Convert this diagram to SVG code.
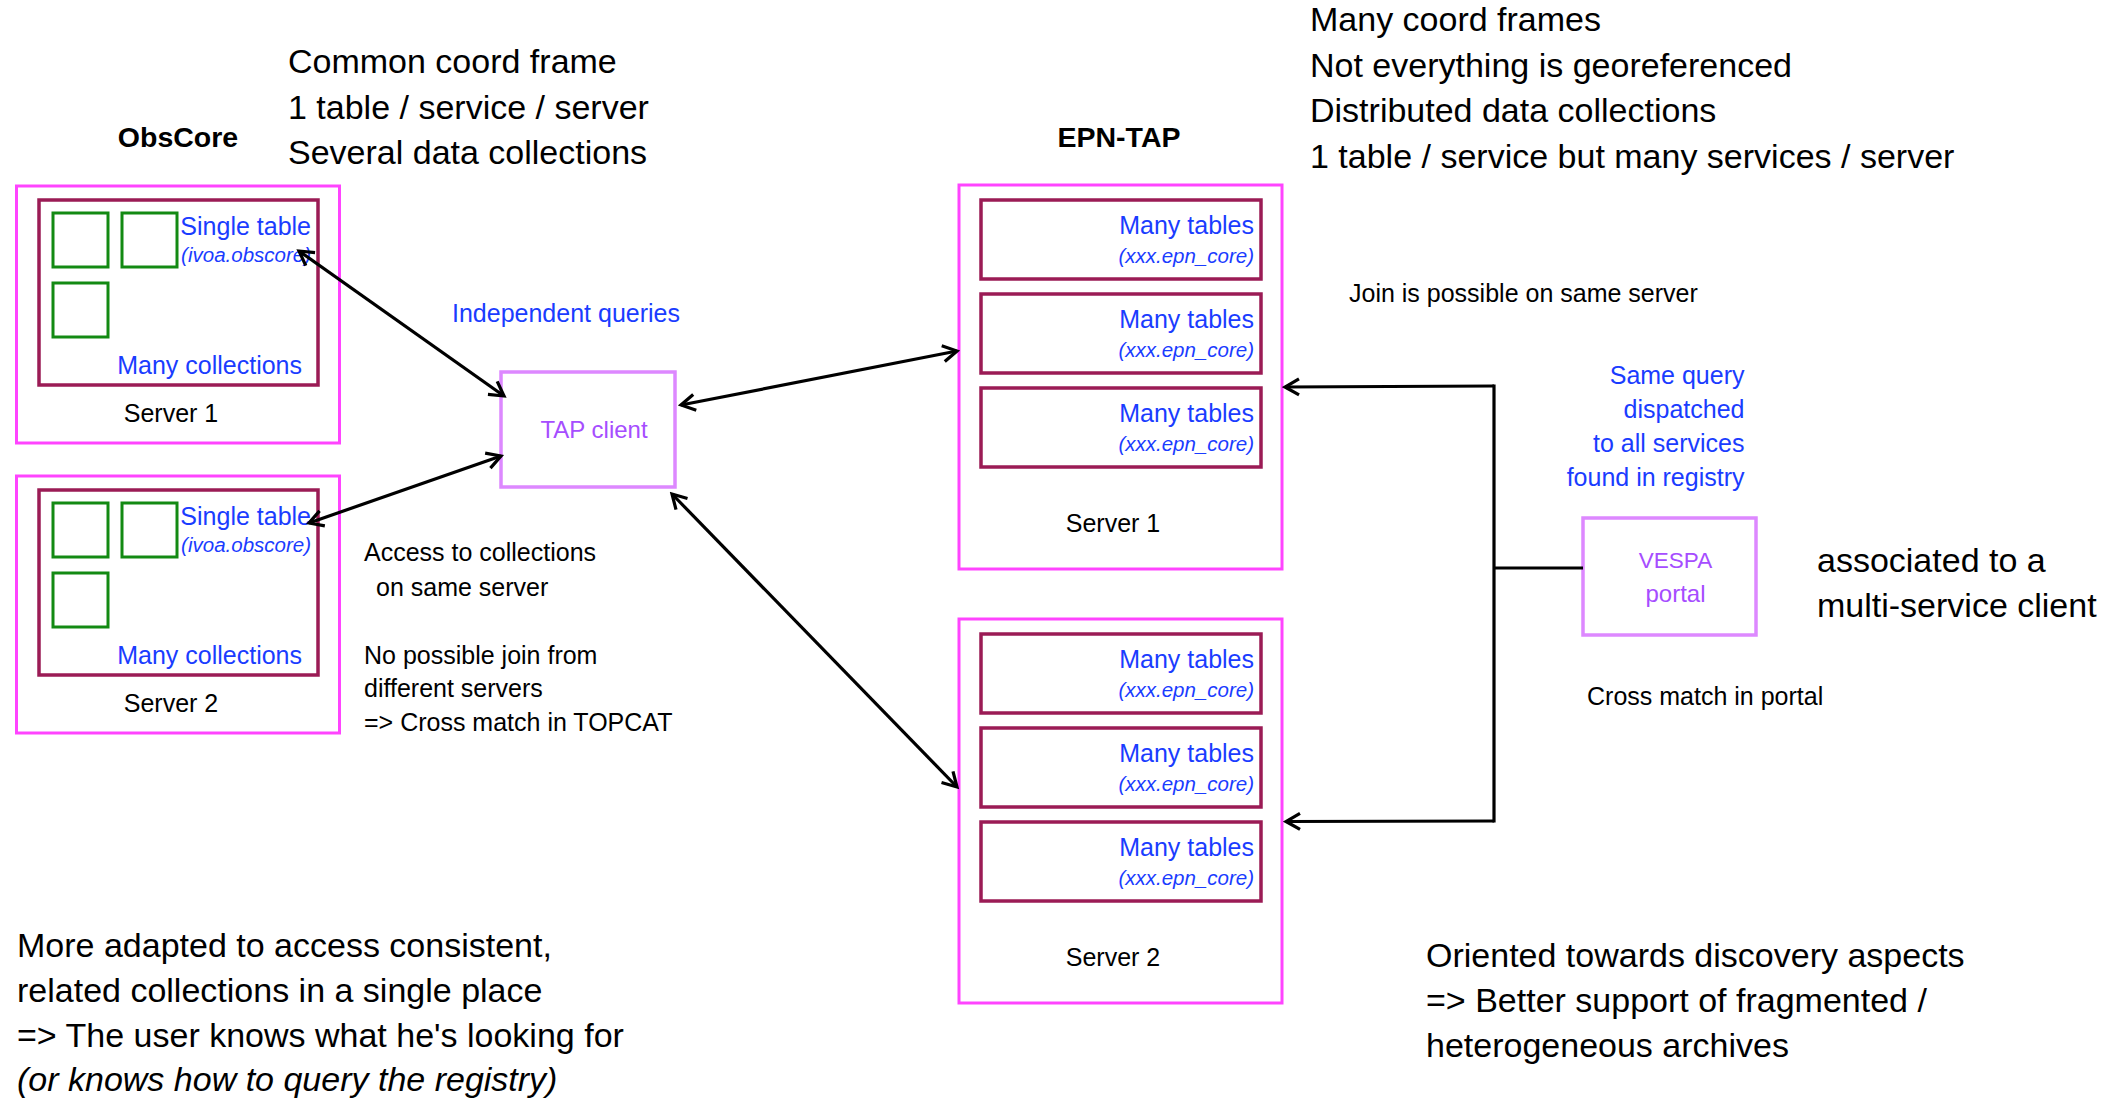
<svg xmlns="http://www.w3.org/2000/svg" width="2125" height="1103" viewBox="0 0 2125 1103">
<style>
text { font-family: "Liberation Sans", Arial, sans-serif; }
.big { font-size: 34px; fill: #000; }
.hdr { font-size: 28.5px; font-weight: bold; fill: #000; text-anchor: middle; }
.lbl { font-size: 25px; fill: #000; }
.blue { font-size: 25px; fill: #1A3CFF; }
.bluei { font-size: 20.5px; fill: #1A3CFF; font-style: italic; }
.purple { font-size: 24px; fill: #A64DFF; text-anchor: middle; }
.vespa { font-size: 22.5px; }
.end { text-anchor: end; }
.mid { text-anchor: middle; }
.server { fill: none; stroke: #FF44FF; stroke-width: 3; }
.inner { fill: none; stroke: #9B1B55; stroke-width: 3.5; }
.coll { fill: none; stroke: #138A13; stroke-width: 3; }
.client { fill: none; stroke: #DD88FF; stroke-width: 3.5; }
.conn { fill: none; stroke: #000; stroke-width: 3.2; }
</style>
<defs>
<marker id="ah" markerUnits="userSpaceOnUse" markerWidth="22" markerHeight="22" viewBox="0 0 22 22" refX="19" refY="11" orient="auto-start-reverse">
<path d="M5,3 L19,11 L5,19" fill="none" stroke="#000" stroke-width="3.2"/>
</marker>
</defs>
<rect width="2125" height="1103" fill="#fff"/>

<g id="headers">
<text class="hdr" x="178" y="147">ObsCore</text>
<text class="hdr" x="1119" y="147">EPN-TAP</text>
</g>

<g id="obscore-notes">
<text class="big" x="288" y="73">Common coord frame</text>
<text class="big" x="288" y="119">1 table / service / server</text>
<text class="big" x="288" y="164">Several data collections</text>
</g>

<g id="epntap-notes">
<text class="big" x="1310" y="31">Many coord frames</text>
<text class="big" x="1310" y="77">Not everything is georeferenced</text>
<text class="big" x="1310" y="122">Distributed data collections</text>
<text class="big" x="1310" y="168">1 table / service but many services / server</text>
</g>

<g id="obs-server1">
<rect class="server" x="16.5" y="186" width="323" height="257"/>
<rect class="inner" x="39" y="200" width="279" height="185"/>
<rect class="coll" x="53" y="213" width="55" height="54"/>
<rect class="coll" x="122" y="213" width="55" height="54"/>
<rect class="coll" x="53" y="283" width="55" height="54"/>
<text class="blue end" x="311" y="235">Single table</text>
<text class="bluei end" x="311" y="262">(ivoa.obscore)</text>
<text class="blue end" x="302" y="373.5" font-size="25.5">Many collections</text>
<text class="lbl mid" x="171" y="421.5">Server 1</text>
</g>

<g id="obs-server2">
<rect class="server" x="16.5" y="476" width="323" height="257"/>
<rect class="inner" x="39" y="490" width="279" height="185"/>
<rect class="coll" x="53" y="503" width="55" height="54"/>
<rect class="coll" x="122" y="503" width="55" height="54"/>
<rect class="coll" x="53" y="573" width="55" height="54"/>
<text class="blue end" x="311" y="525">Single table</text>
<text class="bluei end" x="311" y="552">(ivoa.obscore)</text>
<text class="blue end" x="302" y="663.5" font-size="25.5">Many collections</text>
<text class="lbl mid" x="171" y="711.5">Server 2</text>
</g>

<g id="tap-client">
<rect class="client" x="501" y="372" width="174" height="115"/>
<text class="purple" x="594" y="438">TAP client</text>
</g>

<g id="obs-labels">
<text class="blue" x="452" y="322">Independent queries</text>
<text class="lbl" x="364" y="561">Access to collections</text>
<text class="lbl" x="376" y="595.5">on same server</text>
<text class="lbl" x="364" y="664">No possible join from</text>
<text class="lbl" x="364" y="697">different servers</text>
<text class="lbl" x="364" y="731">=&gt; Cross match in TOPCAT</text>
</g>

<g id="epn-server1">
<rect class="server" x="959" y="185" width="323" height="384"/>
<rect class="inner" x="981" y="200" width="280" height="79"/>
<rect class="inner" x="981" y="294" width="280" height="79"/>
<rect class="inner" x="981" y="388" width="280" height="79"/>
<text class="blue end" x="1254" y="234">Many tables</text>
<text class="bluei end" x="1254" y="263">(xxx.epn_core)</text>
<text class="blue end" x="1254" y="328">Many tables</text>
<text class="bluei end" x="1254" y="357">(xxx.epn_core)</text>
<text class="blue end" x="1254" y="422">Many tables</text>
<text class="bluei end" x="1254" y="451">(xxx.epn_core)</text>
<text class="lbl mid" x="1113" y="532">Server 1</text>
</g>

<g id="epn-server2">
<rect class="server" x="959" y="619" width="323" height="384"/>
<rect class="inner" x="981" y="634" width="280" height="79"/>
<rect class="inner" x="981" y="728" width="280" height="79"/>
<rect class="inner" x="981" y="822" width="280" height="79"/>
<text class="blue end" x="1254" y="668">Many tables</text>
<text class="bluei end" x="1254" y="697">(xxx.epn_core)</text>
<text class="blue end" x="1254" y="762">Many tables</text>
<text class="bluei end" x="1254" y="791">(xxx.epn_core)</text>
<text class="blue end" x="1254" y="856">Many tables</text>
<text class="bluei end" x="1254" y="885">(xxx.epn_core)</text>
<text class="lbl mid" x="1113" y="966">Server 2</text>
</g>

<g id="vespa">
<rect class="client" x="1583" y="518" width="173" height="117"/>
<text class="purple vespa" x="1675.5" y="568">VESPA</text>
<text class="purple" x="1675.5" y="602">portal</text>
</g>

<g id="epn-labels">
<text class="lbl" x="1349" y="302">Join is possible on same server</text>
<text class="blue end" x="1744.5" y="384">Same query</text>
<text class="blue end" x="1744.5" y="418">dispatched</text>
<text class="blue end" x="1744.5" y="452">to all services</text>
<text class="blue end" x="1744.5" y="486">found in registry</text>
<text class="big" x="1817" y="572">associated to a</text>
<text class="big" x="1817" y="617">multi-service client</text>
<text class="lbl" x="1587" y="705">Cross match in portal</text>
</g>

<g id="conclusions">
<text class="big" x="17" y="957">More adapted to access consistent,</text>
<text class="big" x="17" y="1002">related collections in a single place</text>
<text class="big" x="17" y="1047">=&gt; The user knows what he's looking for</text>
<text class="big" x="17" y="1091" font-style="italic">(or knows how to query the registry)</text>
<text class="big" x="1426" y="967">Oriented towards discovery aspects</text>
<text class="big" x="1426" y="1012">=&gt; Better support of fragmented /</text>
<text class="big" x="1426" y="1057">heterogeneous archives</text>
</g>

<g id="connectors">
<path class="conn" d="M299,251 L504,396" marker-start="url(#ah)" marker-end="url(#ah)"/>
<path class="conn" d="M309,523 L501,456" marker-start="url(#ah)" marker-end="url(#ah)"/>
<path class="conn" d="M681,405 L957,351" marker-start="url(#ah)" marker-end="url(#ah)"/>
<path class="conn" d="M672,494 L957,787" marker-start="url(#ah)" marker-end="url(#ah)"/>
<path class="conn" d="M1494,384.5 V822.5"/>
<path class="conn" d="M1494,568 H1583"/>
<path class="conn" d="M1494,386 L1285,387" marker-end="url(#ah)"/>
<path class="conn" d="M1494,821 L1286,821.5" marker-end="url(#ah)"/>
</g>
</svg>
